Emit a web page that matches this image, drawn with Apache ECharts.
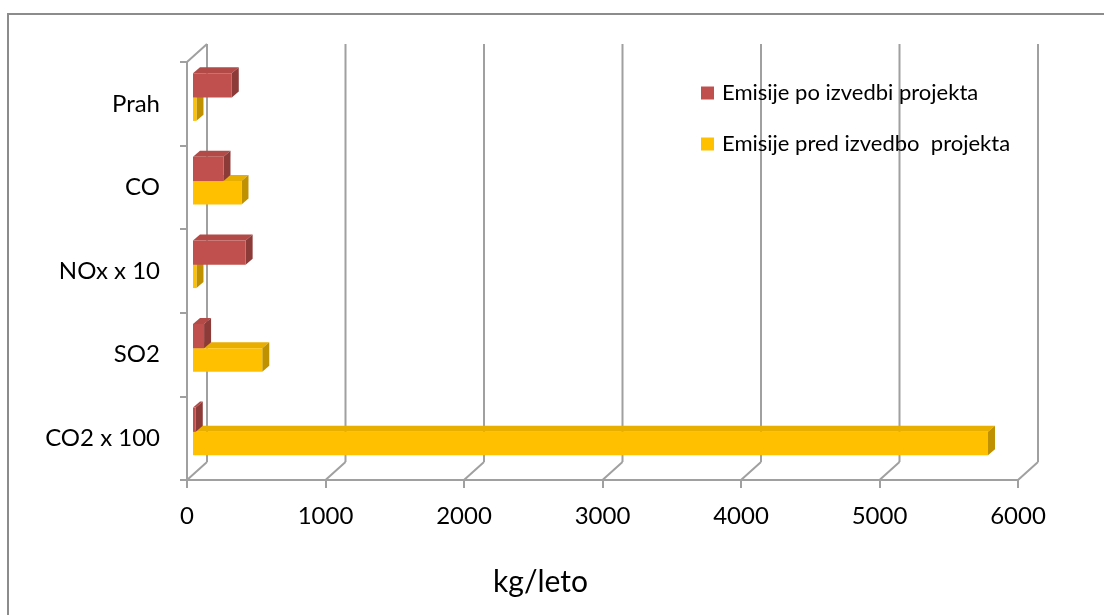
<!DOCTYPE html>
<html>
<head>
<meta charset="utf-8">
<style>
  html, body { margin: 0; padding: 0; background: #ffffff; }
  #chart { width: 1104px; height: 615px; }
</style>
<script src="https://cdn.jsdelivr.net/npm/echarts@6/dist/echarts.min.js"></script>
</head>
<body>
<div id="chart"></div>
<script>
// Emission categories, top to bottom
const categories = ['Prah', 'CO', 'NOx x 10', 'SO2', 'CO2 x 100'];
// kg/leto after the project
const poIzvedbi = [280, 220, 380, 80, 20];
// kg/leto before the project
const predIzvedbo = [25, 350, 25, 500, 5740];
// value axis ticks
const xTicks = [0, 1000, 2000, 3000, 4000, 5000, 6000];

const seriesPo = 'Emisije po izvedbi projekta';
const seriesPred = 'Emisije pred izvedbo  projekta';

const FONT = 'Lato';
const GRID_COLOR = '#a0a0a0';
// depth of the back wall relative to the front plane
const WALL_DX = 20, WALL_DY = -18;
// front face of the bars sits a little behind the front plane
const BAR_OX = 6, BAR_OY = -5.5;
// thickness of each bar block
const BAR_DX = 7, BAR_DY = -6;

function frameItem(params, api) {
  const cs = params.coordSys;
  const x = api.coord([api.value(0), 0])[0];
  const top = cs.y, bottom = cs.y + cs.height;
  const style = { stroke: GRID_COLOR, lineWidth: 2 };
  const children = [
    { type: 'line', shape: { x1: x + WALL_DX, y1: top + WALL_DY, x2: x + WALL_DX, y2: bottom + WALL_DY }, style },
    { type: 'line', shape: { x1: x, y1: bottom, x2: x + WALL_DX, y2: bottom + WALL_DY }, style }
  ];
  if (params.dataIndex === 0) {
    children.push({ type: 'line', shape: { x1: x, y1: top, x2: x + WALL_DX, y2: top + WALL_DY }, style });
  }
  return { type: 'group', children };
}

function makeBarRenderer(front, topC, side, offset, thick) {
  return function (params, api) {
    const idx = api.value(1);
    const p0 = api.coord([0, idx]);
    const p1 = api.coord([api.value(0), idx]);
    const band = api.size([0, 1])[1];
    const h = band * thick;
    const x0 = p0[0] + BAR_OX;
    const x1 = p1[0] + BAR_OX;
    const y = p0[1] + BAR_OY + band * offset;
    return {
      type: 'group',
      children: [
        { type: 'polygon', shape: { points: [[x0, y], [x1, y], [x1 + BAR_DX, y + BAR_DY], [x0 + BAR_DX, y + BAR_DY]] }, style: { fill: topC } },
        { type: 'polygon', shape: { points: [[x1, y], [x1 + BAR_DX, y + BAR_DY], [x1 + BAR_DX, y + h + BAR_DY], [x1, y + h]] }, style: { fill: side } },
        { type: 'rect', shape: { x: x0, y: y, width: Math.max(x1 - x0, 0), height: h }, style: { fill: front } }
      ]
    };
  };
}

const chart = echarts.init(document.getElementById('chart'), null, { renderer: 'canvas' });

chart.setOption({
  animation: false,
  backgroundColor: '#ffffff',
  textStyle: { fontFamily: FONT },
  graphic: [
    { type: 'rect', shape: { x: 8, y: 14, width: 1110, height: 620 }, style: { fill: 'none', stroke: '#8c8c8c', lineWidth: 2 }, z: -10 }
  ],
  legend: {
    data: [seriesPo, seriesPred],
    orient: 'vertical',
    left: 696,
    top: 77,
    padding: 5,
    icon: 'rect',
    itemWidth: 13,
    itemHeight: 13,
    itemGap: 29,
    textStyle: { fontFamily: FONT, fontSize: 22, color: '#000000', padding: [0, 0, 0, 3] }
  },
  grid: { left: 187, top: 62, width: 831, height: 418 },
  xAxis: {
    type: 'value',
    min: 0,
    max: 6000,
    interval: 1000,
    axisLine: { show: true, lineStyle: { color: GRID_COLOR, width: 2 } },
    axisTick: { show: true, length: 8, lineStyle: { color: GRID_COLOR, width: 2 } },
    splitLine: { show: false },
    axisLabel: { fontFamily: FONT, fontSize: 24, color: '#000000', margin: 24, formatter: v => String(v) },
    name: 'kg/leto',
    nameLocation: 'middle',
    nameGap: 87,
    nameTextStyle: { fontFamily: FONT, fontSize: 30, color: '#000000', padding: [0, 124, 0, 0] }
  },
  yAxis: {
    type: 'category',
    data: categories,
    inverse: true,
    axisLine: { show: true, lineStyle: { color: GRID_COLOR, width: 2 } },
    axisTick: { show: true, length: 7, lineStyle: { color: GRID_COLOR, width: 2 } },
    axisLabel: { fontFamily: FONT, fontSize: 24, color: '#000000', margin: 27 },
    splitLine: { show: false }
  },
  series: [
    {
      type: 'custom',
      name: 'frame',
      renderItem: frameItem,
      data: xTicks.map(v => [v]),
      encode: { x: 0 },
      clip: false,
      silent: true,
      z: 1
    },
    {
      type: 'custom',
      name: seriesPred,
      itemStyle: { color: '#FFC000' },
      renderItem: makeBarRenderer('#FFC000', '#E8AE00', '#BF9000', -0.01, 0.28),
      data: predIzvedbo.map((v, i) => [v, i]),
      encode: { x: 0, y: 1 },
      clip: false,
      z: 2
    },
    {
      type: 'custom',
      name: seriesPo,
      itemStyle: { color: '#C0504D' },
      renderItem: makeBarRenderer('#C0504D', '#B24A47', '#8C3B39', -0.30, 0.29),
      data: poIzvedbi.map((v, i) => [v, i]),
      encode: { x: 0, y: 1 },
      clip: false,
      z: 3
    }
  ]
});
</script>
</body>
</html>
